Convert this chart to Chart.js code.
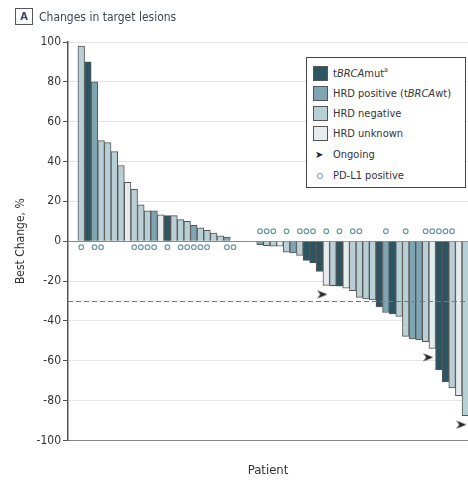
<!DOCTYPE html>
<html lang="en">
<head>
  <meta charset="UTF-8" />
  <title>Changes in target lesions</title>
  <script src="https://cdn.jsdelivr.net/npm/chart.js"></script>
  <style>
    body { margin: 0; background: #fff; font-family: "DejaVu Sans Condensed", "DejaVu Sans", sans-serif; color: #333; }
    .wrap { position: relative; width: 468px; height: 481px; }
    .panel { position: absolute; left: 15px; top: 8px; font-size: 12px; color: #3c4656; }
    .panel .tag { display: inline-block; width: 16px; height: 15px; border: 1px solid #555; text-align: center; font-weight: bold; line-height: 15px; font-size: 11px; margin-right: 6px; vertical-align: middle; }
    .panel span { vertical-align: middle; }
    .legend { position: absolute; left: 306px; top: 57px; width: 158px; height: 129px; border: 1px solid #444; background: #fff; font-size: 11px; color: #333; }
    .legend .row { position: absolute; left: 6px; height: 16px; line-height: 16px; white-space: nowrap; }
    .legend .sw { position: absolute; left: 0; top: 0; width: 13px; height: 13px; border: 1px solid #555; }
    .legend .txt { position: absolute; left: 20px; top: 0; }
    .legend sup { font-size: 7px; line-height: 0; }
    .legend .arrow { position: absolute; left: 2px; top: 0; font-family: "DejaVu Sans"; font-size: 10px; color: #222; }
    .legend .ring { position: absolute; left: 4px; top: 5px; width: 4px; height: 4px; border: 1px solid #6f98a6; border-radius: 50%; }
    #chart { position: absolute; left: 0; top: 0; }
  </style>
</head>
<body>
  <div class="wrap">
    <canvas id="chart" width="468" height="481"></canvas>
    <div class="panel"><span class="tag">A</span><span>Changes in target lesions</span></div>
    <div class="legend">
      <div class="row" style="top:8px"><div class="sw" style="background:#2b5561"></div><div class="txt">t<i>BRCA</i>mut<sup>a</sup></div></div>
      <div class="row" style="top:28px"><div class="sw" style="background:#7fa4b2"></div><div class="txt">HRD positive (t<i>BRCA</i>wt)</div></div>
      <div class="row" style="top:48px"><div class="sw" style="background:#b9cfd6"></div><div class="txt">HRD negative</div></div>
      <div class="row" style="top:68px"><div class="sw" style="background:#e6ecee"></div><div class="txt">HRD unknown</div></div>
      <div class="row" style="top:89px"><div class="arrow">➤</div><div class="txt">Ongoing</div></div>
      <div class="row" style="top:110px"><div class="ring"></div><div class="txt">PD-L1 positive</div></div>
    </div>
  </div>

  <script>
    // best change from baseline, % (one per patient, sorted)
    const bestChange = [98, 90, 80, 50.5, 49.5, 45, 38, 29.5, 26, 18.3, 15.3, 15.3, 13.3, 12.8, 12.8, 10.8, 10, 8, 6.7, 5.4, 4.1, 2.7, 2.1,
      null, null, null, null,
      -1.7, -2.2, -2.5, -2.5, -5.5, -5.9, -7.2, -9.6, -10.9, -15.2,
      -22.2, -22.3, -22.6, -23.6, -24.8, -28.2, -29, -29.5,
      -33, -35.8, -36.5, -37.8,
      -47.8, -49.1, -49.6, -50.4, -53.8,
      -64.6, -70.7, -73.6, -77.6, -87.6];

    // M = tBRCAmut, P = HRD positive, N = HRD negative, U = HRD unknown
    const hrdGroup = ['N', 'M', 'P', 'N', 'N', 'N', 'N', 'U', 'N', 'N', 'N', 'P', 'U', 'M', 'N', 'N', 'N', 'P', 'N', 'N', 'N', 'N', 'P',
      'U', 'U', 'U', 'U',
      'P', 'N', 'N', 'U', 'N', 'P', 'N', 'M', 'M', 'M',
      'U', 'N', 'M', 'U', 'N', 'N', 'N', 'N',
      'M', 'P', 'M', 'N',
      'N', 'P', 'P', 'N', 'U',
      'M', 'M', 'N', 'U', 'N'];

    const pdl1Positive = [1, 3, 4, 9, 10, 11, 12, 14, 16, 17, 18, 19, 20, 23, 24,
      28, 29, 30, 32, 34, 35, 36, 38, 40, 42, 43, 47, 50, 53, 54, 55, 56, 57];
    const ongoing = [38, 54, 59];

    const yTicks = [100, 80, 60, 40, 20, 0, -20, -40, -60, -80, -100];
    const threshold = -30;

    const groupColors = { M: '#2b5561', P: '#7fa4b2', N: '#b9cfd6', U: '#e6ecee' };

    const patients = bestChange.map((v, i) => i + 1);

    // arrowhead image for "ongoing"
    const arrowImg = document.createElement('canvas');
    arrowImg.width = 18; arrowImg.height = 10;
    (function () {
      const c = arrowImg.getContext('2d');
      c.fillStyle = '#222';
      c.beginPath();
      c.moveTo(0, 1); c.lineTo(10, 5); c.lineTo(0, 9); c.lineTo(3, 5);
      c.closePath(); c.fill();
    })();

    const pdl1Points = pdl1Positive.map(p => {
      const v = bestChange[p - 1];
      return { x: p, y: (v === null || v > 0) ? -3 : 5 };
    });
    const ongoingPoints = ongoing.map(p => ({ x: p, y: bestChange[p - 1] - 4.5 }));

    const thresholdLine = {
      id: 'thresholdLine',
      afterDatasetsDraw(chart) {
        const { ctx, chartArea, scales } = chart;
        const y = Math.round(scales.y.getPixelForValue(threshold)) + 0.5;
        ctx.save();
        ctx.strokeStyle = '#777';
        ctx.lineWidth = 1;
        ctx.setLineDash([5, 3]);
        ctx.beginPath();
        ctx.moveTo(chartArea.left, y);
        ctx.lineTo(chartArea.right, y);
        ctx.stroke();
        ctx.restore();
      }
    };

    const font = "'DejaVu Sans Condensed', 'DejaVu Sans', sans-serif";

    new Chart(document.getElementById('chart'), {
      type: 'bar',
      data: {
        datasets: [
          {
            type: 'scatter',
            data: pdl1Points,
            pointStyle: 'circle',
            pointRadius: 2.3,
            pointBorderWidth: 1.2,
            pointBackgroundColor: '#fff',
            pointBorderColor: '#6f98a6',
            order: 0
          },
          {
            type: 'scatter',
            data: ongoingPoints,
            pointStyle: arrowImg,
            order: 0
          },
          {
            data: patients.map((p, i) => ({ x: p, y: bestChange[i] })),
            backgroundColor: hrdGroup.map(g => groupColors[g]),
            borderColor: '#555',
            borderWidth: 1,
            barPercentage: 1,
            categoryPercentage: 1,
            order: 2
          }
        ]
      },
      options: {
        responsive: false,
        animation: false,
        layout: { autoPadding: false, padding: { top: 42, right: 0, bottom: 3, left: 10 } },
        plugins: { legend: { display: false }, tooltip: { enabled: false } },
        scales: {
          x: {
            type: 'linear',
            offset: false,
            min: -1,
            max: 59.4,
            ticks: { display: false },
            grid: { display: false, drawTicks: false, offset: false },
            border: { display: true, color: '#888', width: 1 },
            title: { display: true, text: 'Patient', color: '#333', font: { family: font, size: 13 }, padding: { top: 22, bottom: 0 } }
          },
          y: {
            min: -100,
            max: 100,
            afterBuildTicks(scale) { scale.ticks = yTicks.map(v => ({ value: v })); },
            afterFit(scale) { scale.width = 58; },
            ticks: { color: '#333', font: { family: font, size: 12 }, padding: 2 },
            grid: {
              color: c => c.tick && c.tick.value === 0 ? '#8a8a8a' : '#e4e4e4',
              tickColor: '#555',
              tickLength: 5,
              lineWidth: 1
            },
            border: { display: true, color: '#555', width: 1.5 },
            title: { display: true, text: 'Best Change, %', color: '#333', font: { family: font, size: 12 }, padding: { top: 4, bottom: 0 } }
          }
        }
      },
      plugins: [thresholdLine]
    });
  </script>
</body>
</html>
